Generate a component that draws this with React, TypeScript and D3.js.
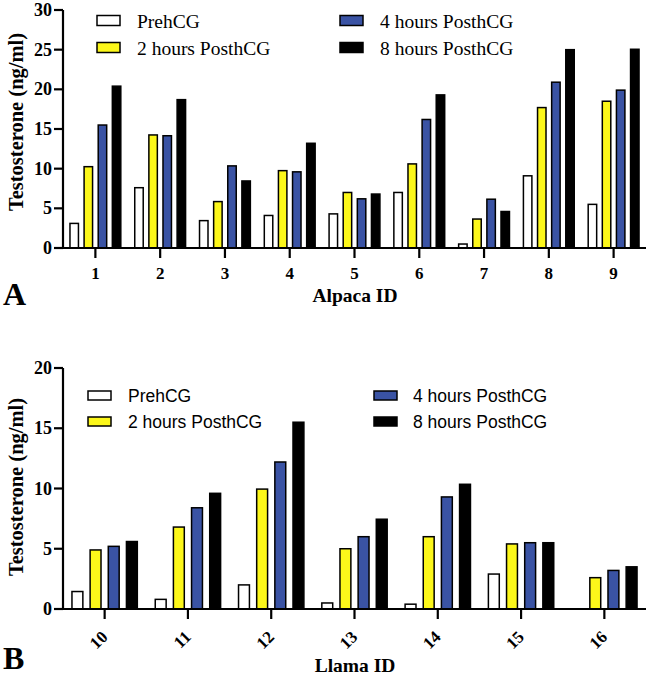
import React from 'react';
import * as d3 from 'd3';

const seriesNames = ['PrehCG', '2 hours PosthCG', '4 hours PosthCG', '8 hours PosthCG'];
const seriesColors = ['#ffffff', '#fcf71a', '#3a53a4', '#000000'];

const alpacaIds = ['1', '2', '3', '4', '5', '6', '7', '8', '9'];
const alpacaPre = [3.1, 7.6, 3.45, 4.1, 4.3, 7.0, 0.5, 9.1, 5.5];
const alpaca2h = [10.25, 14.25, 5.85, 9.75, 7.0, 10.6, 3.65, 17.7, 18.5];
const alpaca4h = [15.5, 14.15, 10.35, 9.6, 6.2, 16.2, 6.15, 20.9, 19.9];
const alpaca8h = [20.4, 18.7, 8.45, 13.2, 6.8, 19.3, 4.6, 25.0, 25.05];
const alpacaTicks = [0, 5, 10, 15, 20, 25, 30];

const llamaIds = ['10', '11', '12', '13', '14', '15', '16'];
const llamaPre = [1.45, 0.8, 2.0, 0.5, 0.4, 2.9, 0];
const llama2h = [4.9, 6.8, 9.95, 5.0, 6.0, 5.4, 2.6];
const llama4h = [5.2, 8.4, 12.2, 6.0, 9.3, 5.5, 3.2];
const llama8h = [5.6, 9.6, 15.5, 7.45, 10.35, 5.5, 3.5];
const llamaTicks = [0, 5, 10, 15, 20];

const SERIF = '"Liberation Serif", "Times New Roman", serif';
const SANS = '"Liberation Sans", Arial, sans-serif';

type PanelProps = {
  ids: string[];
  values: number[][];
  ticks: number[];
  yMax: number;
  y0: number;
  yTop: number;
  x0: number;
  x1: number;
  rotate: boolean;
  xTitle: string;
  xTitleY: number;
  letter: string;
  letterY: number;
  yTitleCenter: number;
  legendFont: string;
  legendSize: number;
  legendCols: { boxX: number; textX: number }[];
  legendRows: number[];
  boxW: number;
  boxH: number;
};

function Panel(p: PanelProps) {
  const x = d3.scaleBand<string>().domain(p.ids).range([p.x0, p.x1]).padding(0);
  const y = d3.scaleLinear().domain([0, p.yMax]).range([p.y0, p.yTop]);
  const s = x.step() * 0.218;
  const inner = d3
    .scaleBand<number>()
    .domain([0, 1, 2, 3])
    .range([-2 * s, 2 * s])
    .paddingInner(0.4)
    .paddingOuter(0.2);
  const tickFs = 17;
  return (
    <g>
      {p.ids.map((id, i) => {
        const cx = (x(id) as number) + x.bandwidth() / 2;
        return p.values.map((arr, k) => {
          const v = arr[i];
          if (v <= 0) return null;
          const bx = cx + (inner(k) as number);
          return (
            <rect
              key={id + '-' + k}
              x={bx}
              y={y(v)}
              width={inner.bandwidth()}
              height={y(0) - y(v)}
              fill={seriesColors[k]}
              stroke="#000"
              strokeWidth={1.5}
            />
          );
        });
      })}
      <line x1={p.x0} x2={p.x0} y1={p.y0 + 1} y2={p.yTop} stroke="#000" strokeWidth={2.2} />
      <line x1={p.x0 - 1} x2={p.x1} y1={p.y0} y2={p.y0} stroke="#000" strokeWidth={2.2} />
      {p.ticks.map((t) => (
        <g key={'yt' + t}>
          <line x1={p.x0 - 9} x2={p.x0} y1={y(t)} y2={y(t)} stroke="#000" strokeWidth={2.2} />
          <text
            x={p.x0 - 11}
            y={y(t)}
            dy="0.34em"
            textAnchor="end"
            fontFamily={SERIF}
            fontWeight="bold"
            fontSize={18}
          >
            {t}
          </text>
        </g>
      ))}
      {p.ids.map((id) => {
        const cx = (x(id) as number) + x.bandwidth() / 2;
        return (
          <g key={'xt' + id}>
            <line x1={cx} x2={cx} y1={p.y0} y2={p.y0 + 10} stroke="#000" strokeWidth={2.2} />
            {p.rotate ? (
              <text
                transform={`translate(${cx + 4},${p.y0 + 29}) rotate(-45)`}
                textAnchor="end"
                fontFamily={SERIF}
                fontWeight="bold"
                fontSize={tickFs}
              >
                {id}
              </text>
            ) : (
              <text
                x={cx}
                y={p.y0 + 31}
                textAnchor="middle"
                fontFamily={SERIF}
                fontWeight="bold"
                fontSize={tickFs}
              >
                {id}
              </text>
            )}
          </g>
        );
      })}
      <text
        transform={`translate(23,${p.yTitleCenter}) rotate(-90)`}
        textAnchor="middle"
        fontFamily={SERIF}
        fontWeight="bold"
        fontSize={20.5}
      >
        Testosterone (ng/ml)
      </text>
      <text
        x={355}
        y={p.xTitleY}
        textAnchor="middle"
        fontFamily={SERIF}
        fontWeight="bold"
        fontSize={19.5}
      >
        {p.xTitle}
      </text>
      <text x={3} y={p.letterY} fontFamily={SERIF} fontWeight="bold" fontSize={32}>
        {p.letter}
      </text>
      {seriesNames.map((name, k) => {
        const col = p.legendCols[Math.floor(k / 2)];
        const rowY = p.legendRows[k % 2];
        return (
          <g key={'lg' + k}>
            <rect
              x={col.boxX}
              y={rowY - p.boxH / 2}
              width={p.boxW}
              height={p.boxH}
              fill={seriesColors[k]}
              stroke="#000"
              strokeWidth={1.5}
            />
            <text
              x={col.textX}
              y={rowY}
              dy="0.36em"
              fontFamily={p.legendFont}
              fontSize={p.legendSize}
            >
              {name}
            </text>
          </g>
        );
      })}
    </g>
  );
}

export default function App() {
  return (
    <svg
      width={649}
      height={676}
      style={{ position: 'absolute', left: 0, top: 0, background: '#fff' }}
    >
      <rect x={0} y={0} width={649} height={676} fill="#fff" />
      <Panel
        ids={alpacaIds}
        values={[alpacaPre, alpaca2h, alpaca4h, alpaca8h]}
        ticks={alpacaTicks}
        yMax={30}
        y0={248}
        yTop={10}
        x0={63}
        x1={646}
        rotate={false}
        xTitle="Alpaca ID"
        xTitleY={302}
        letter="A"
        letterY={305}
        yTitleCenter={122}
        legendFont={SERIF}
        legendSize={19.5}
        legendCols={[
          { boxX: 97, textX: 137 },
          { boxX: 340, textX: 380 },
        ]}
        legendRows={[20.5, 47.5]}
        boxW={23}
        boxH={10}
      />
      <Panel
        ids={llamaIds}
        values={[llamaPre, llama2h, llama4h, llama8h]}
        ticks={llamaTicks}
        yMax={20}
        y0={609}
        yTop={368}
        x0={63}
        x1={646}
        rotate={true}
        xTitle="Llama ID"
        xTitleY={672}
        letter="B"
        letterY={669}
        yTitleCenter={487}
        legendFont={SANS}
        legendSize={17.5}
        legendCols={[
          { boxX: 88, textX: 128 },
          { boxX: 374, textX: 413 },
        ]}
        legendRows={[395.5, 421.5]}
        boxW={23}
        boxH={9}
      />
    </svg>
  );
}
